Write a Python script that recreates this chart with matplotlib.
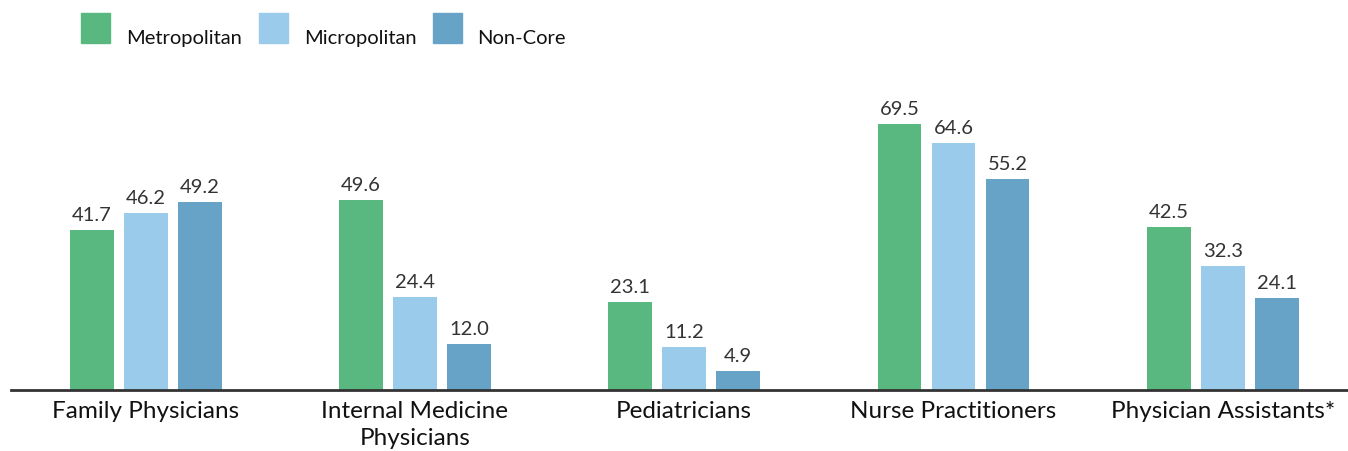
import matplotlib.pyplot as plt
from matplotlib.patches import Rectangle
import numpy as np

plt.rcParams['font.family'] = ['Lato', 'DejaVu Sans']

categories = ["Family Physicians", "Internal Medicine\nPhysicians", "Pediatricians",
              "Nurse Practitioners", "Physician Assistants*"]
series = ["Metropolitan", "Micropolitan", "Non-Core"]
metro = [41.7, 49.6, 23.1, 69.5, 42.5]
micro = [46.2, 24.4, 11.2, 64.6, 32.3]
noncore = [49.2, 12.0, 4.9, 55.2, 24.1]
colors = ["#59B87F", "#9BCBEA", "#67A3C7"]

W, H = 1348, 452
fig = plt.figure(figsize=(W / 100, H / 100), dpi=100)
# axes placed in pixel terms: baseline at y=391, axis line from x=11 to right edge
ax = fig.add_axes([11 / W, 61 / H, 1 - 11 / W, 331 / H])

x = np.arange(len(categories))
width = 0.163
step = 0.2006
for i, (vals, c) in enumerate(zip([metro, micro, noncore], colors)):
    b = ax.bar(x + (i - 1) * step, vals, width, color=c, zorder=2)
    ax.bar_label(b, labels=[f"{v:.1f}" for v in vals], padding=5,
                 fontsize=14.5, color="#333333")

ax.set_xlim(-0.5, 4.465)
ax.set_ylim(0, 331 / 3.827)
ax.set_yticks([])
ax.set_xticks(x)
ax.set_xticklabels(categories, fontsize=17.5, color="#111111", linespacing=1.35)
ax.tick_params(axis="x", length=0, pad=7)
for s in ["top", "right", "left"]:
    ax.spines[s].set_visible(False)
ax.spines["bottom"].set_color("#333333")
ax.spines["bottom"].set_linewidth(2)
ax.spines["bottom"].set_zorder(3)

# legend drawn by hand so the squares and labels sit where the reference has them
sq_x = [81, 259, 433]
txt_x = [126, 304, 477]
for sx, tx, c, name in zip(sq_x, txt_x, colors, series):
    fig.add_artist(Rectangle((sx / W, 1 - 44 / H), 29 / W, 30 / H,
                             transform=fig.transFigure, color=c))
    fig.text(tx / W, 1 - 44 / H, name, fontsize=14.5, va="baseline", ha="left",
             color="#111111")

fig.savefig("out.png", dpi=100)
